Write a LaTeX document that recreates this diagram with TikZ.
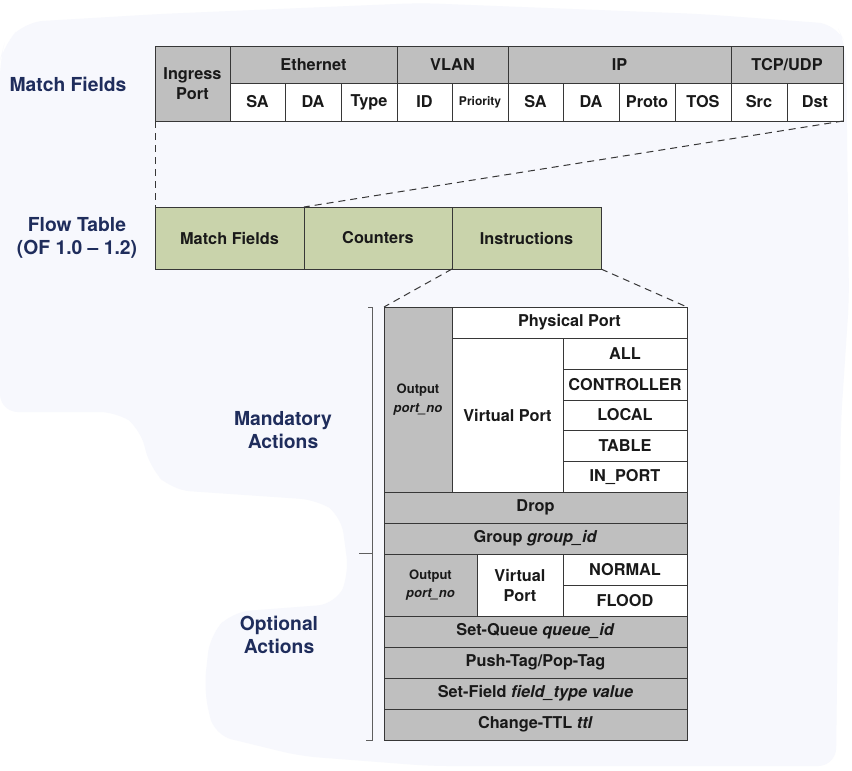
\documentclass[tikz,border=0pt]{standalone}
\usepackage{fontspec}
\setmainfont{TeX Gyre Heros}
\definecolor{bgblob}{RGB}{247,248,253}
\definecolor{cellgray}{RGB}{191,191,191}
\definecolor{cellgreen}{RGB}{201,211,171}
\definecolor{linec}{RGB}{55,55,55}
\definecolor{txtc}{RGB}{25,25,25}
\definecolor{navy}{RGB}{31,45,92}
\newcommand\cellbox[7]{\node[#1, minimum width={(#5-#3)*1pt}, minimum height={(#6-#4)*1pt}] (#2) at ({(#3+#5)/2},{-(#4+#6)/2}) {#7};}
\begin{document}
\begin{tikzpicture}[x=1pt,y=1pt,
  cellbase/.style={draw=linec, line width=0.9pt, inner sep=0pt, outer sep=0pt, align=center,
    text=txtc, font=\fontsize{16.3}{20}\selectfont\bfseries},
  gcell/.style={cellbase, fill=cellgray},
  wcell/.style={cellbase, fill=white},
  fcell/.style={cellbase, fill=cellgreen},
  smallfont/.style={font=\fontsize{12}{14}\selectfont\bfseries},
  outfont/.style={font=\fontsize{13}{18.5}\selectfont\bfseries},
  sidelabel/.style={text=navy, align=center, font=\fontsize{19.3}{23}\selectfont\bfseries},
  zoomline/.style={draw=linec, line width=1pt, dash pattern=on 7pt off 5pt},
  bracket/.style={draw=linec!80, line width=1pt}
]
\useasboundingbox (0,0) rectangle (852,-771);
\fill[white] (0,0) rectangle (852,-771);
% background blob
\fill[bgblob, rounded corners=18pt]
  (4,-45) -- (25,-22) -- (160,-14) -- (420,-3) -- (700,-14) -- (836,-24) -- (846,-45)
  -- (849,-300) -- (841,-420) -- (838,-600) -- (836,-766) -- (430,-766)
  -- (300,-756) -- (214,-735) -- (204,-690) -- (210,-635) -- (232,-612)
  -- (336,-604) -- (349,-575) -- (341,-515) -- (318,-500) -- (172,-490)
  -- (150,-468) -- (140,-428) -- (118,-412) -- (0,-412) -- (0,-60) -- cycle;

% side labels
\node[sidelabel] (lmatch) at (68,-84) {Match Fields};
\node[sidelabel] (lflow) at (77,-238) {Flow Table\\(OF 1.0 -- 1.2)};
\node[sidelabel] (lmand) at (283,-430) {Mandatory\\Actions};
\node[sidelabel] (lopt) at (279,-635) {Optional\\Actions};

% match fields header
\cellbox{gcell}{ingress}{155}{46}{230}{121}{Ingress\\Port}
\cellbox{gcell}{eth}{230}{46}{397}{83}{Ethernet}
\cellbox{gcell}{vlan}{397}{46}{508}{83}{VLAN}
\cellbox{gcell}{ip}{508}{46}{731}{83}{IP}
\cellbox{gcell}{tcp}{731}{46}{843}{83}{TCP/UDP}
\cellbox{wcell}{esa}{230}{83}{285}{121}{SA}
\cellbox{wcell}{eda}{285}{83}{341}{121}{DA}
\cellbox{wcell}{etype}{341}{83}{397}{121}{Type}
\cellbox{wcell}{vid}{397}{83}{452}{121}{ID}
\cellbox{wcell,smallfont}{vprio}{452}{83}{508}{121}{Priority}
\cellbox{wcell}{isa}{508}{83}{563}{121}{SA}
\cellbox{wcell}{ida}{563}{83}{619}{121}{DA}
\cellbox{wcell}{iproto}{619}{83}{675}{121}{Proto}
\cellbox{wcell}{itos}{675}{83}{731}{121}{TOS}
\cellbox{wcell}{tsrc}{731}{83}{787}{121}{Src}
\cellbox{wcell}{tdst}{787}{83}{843}{121}{Dst}

% flow table
\cellbox{fcell}{ftmatch}{155}{207}{304}{269}{Match Fields}
\cellbox{fcell}{ftcount}{304}{207}{452}{269}{Counters}
\cellbox{fcell}{ftinstr}{452}{207}{601}{269}{Instructions}

% actions table
\cellbox{gcell,outfont}{outm}{384}{307}{452}{492}{Output\\\textit{port\_no}}
\cellbox{wcell}{phys}{452}{307}{687}{338}{Physical Port}
\cellbox{wcell}{vport}{452}{338}{563}{492}{Virtual Port}
\cellbox{wcell}{pall}{563}{338}{687}{369}{ALL}
\cellbox{wcell}{pctrl}{563}{369}{687}{400}{CONTROLLER}
\cellbox{wcell}{plocal}{563}{400}{687}{430}{LOCAL}
\cellbox{wcell}{ptable}{563}{430}{687}{461}{TABLE}
\cellbox{wcell}{pin}{563}{461}{687}{492}{IN\_PORT}
\cellbox{gcell}{adrop}{384}{492}{687}{523}{Drop}
\cellbox{gcell}{agroup}{384}{523}{687}{554}{Group \textit{group\_id}}
\cellbox{gcell,outfont}{outo}{384}{554}{477}{616}{Output\\\textit{port\_no}}
\cellbox{wcell}{vport2}{477}{554}{563}{616}{Virtual\\Port}
\cellbox{wcell}{pnormal}{563}{554}{687}{585}{NORMAL}
\cellbox{wcell}{pflood}{563}{585}{687}{616}{FLOOD}
\cellbox{gcell}{aqueue}{384}{616}{687}{647}{Set-Queue \textit{queue\_id}}
\cellbox{gcell}{apush}{384}{647}{687}{678}{Push-Tag/Pop-Tag}
\cellbox{gcell}{afield}{384}{678}{687}{709}{Set-Field \textit{field\_type value}}
\cellbox{gcell}{attl}{384}{709}{687}{740}{Change-TTL \textit{ttl}}

% zoom lines
\draw[zoomline] (ingress.south west) -- (ftmatch.north west);
\draw[zoomline] (tdst.south east) -- (ftcount.north west);
\draw[zoomline] (ftinstr.south west) -- (outm.north west);
\draw[zoomline] (ftinstr.south east) -- (phys.north east);

% bracket
\coordinate (brt) at (372,-307);
\coordinate (brm) at (372,-553);
\coordinate (brb) at (372,-740);
\draw[bracket] ([xshift=-4pt]brt) -- (brt) -- (brb) -- ([xshift=-6pt]brb);
\draw[bracket] (brm) -- ([xshift=-13pt]brm);
\end{tikzpicture}
\end{document}
